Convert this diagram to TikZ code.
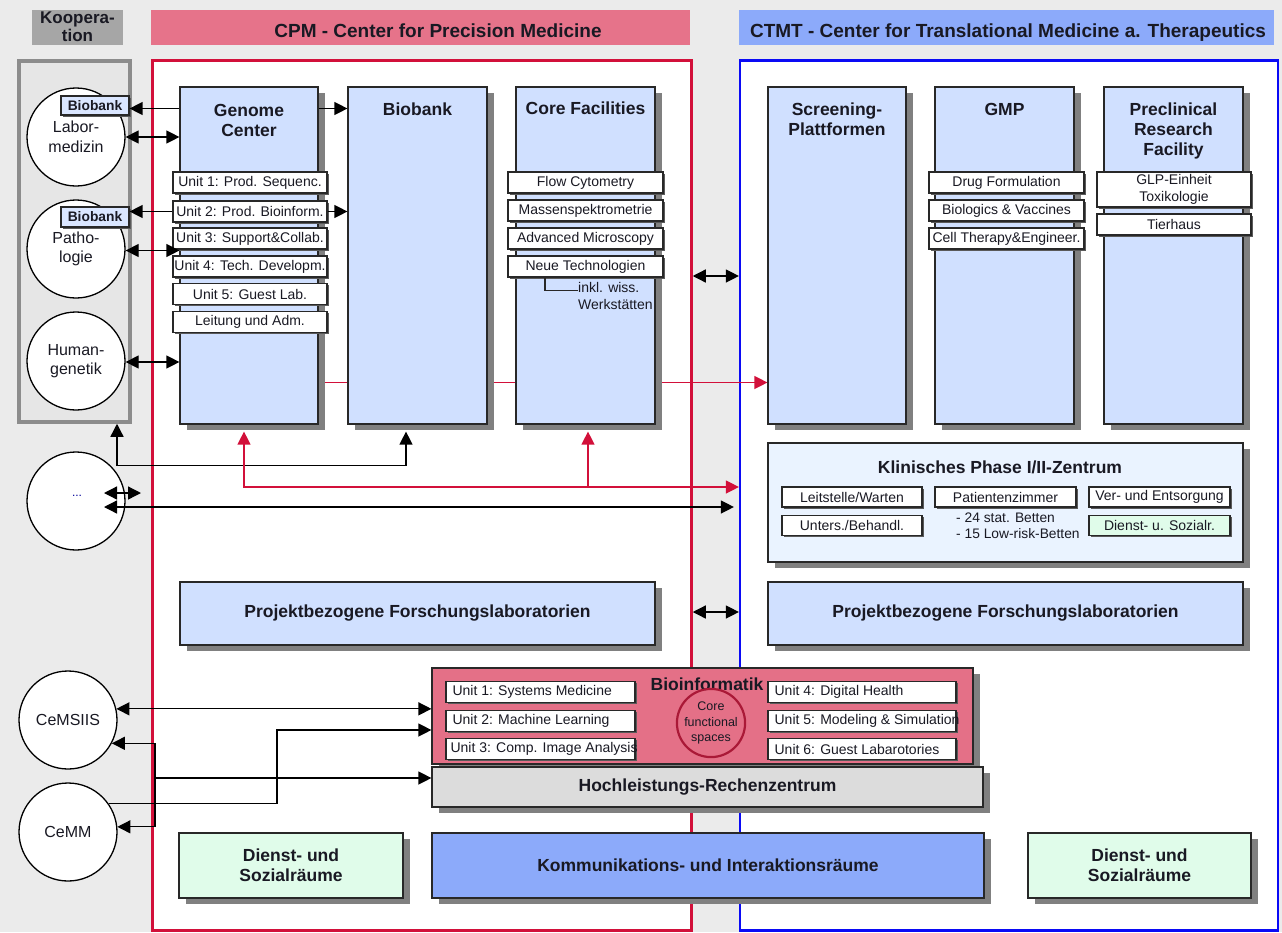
\documentclass[tikz,border=0pt]{standalone}
\usepackage{fontspec}
\setmainfont{Liberation Sans}
\usetikzlibrary{arrows.meta,shadows,calc}
\pgfdeclarelayer{lback}
\pgfdeclarelayer{lmid}
\pgfsetlayers{lback,lmid,main}

\definecolor{bgc}{RGB}{235,235,235}
\definecolor{koophead}{RGB}{166,166,166}
\definecolor{cpmfill}{RGB}{230,115,138}
\definecolor{cpmline}{RGB}{210,16,58}
\definecolor{ctmtfill}{RGB}{140,170,250}
\definecolor{ctmtline}{RGB}{10,10,245}
\definecolor{colfill}{RGB}{208,224,255}
\definecolor{klinfill}{RGB}{234,243,255}
\definecolor{greenfill}{RGB}{224,252,234}
\definecolor{hochfill}{RGB}{220,220,220}
\definecolor{bioinf}{RGB}{228,112,135}
\definecolor{coreline}{RGB}{170,25,55}
\definecolor{shad}{RGB}{128,128,128}
\definecolor{edgec}{RGB}{40,40,40}
\definecolor{txt}{RGB}{25,25,35}
\definecolor{koopframe}{RGB}{140,140,140}
\definecolor{koopin}{RGB}{230,230,230}
\definecolor{tagfill}{RGB}{218,230,255}

\newcommand\zT{\fontsize{17.5}{20}\selectfont\bfseries}
\newcommand\zH{\fontsize{19}{22}\selectfont\bfseries}
\newcommand\zU{\fontsize{14}{17}\selectfont}
\newcommand\zB{\fontsize{13.8}{17}\selectfont\bfseries}
\newcommand\zC{\fontsize{16}{19.5}\selectfont}
\newcommand\zS{\fontsize{12.5}{15.5}\selectfont}

\begin{document}
\begin{tikzpicture}[x=1pt,y=-1pt,
  every node/.style={text=txt},
  boxed/.style={draw=edgec, line width=1.2pt, inner sep=0pt, rectangle},
  colbox/.style={boxed, fill=colfill, minimum width=139pt, minimum height=337pt,
     drop shadow={shadow xshift=7pt, shadow yshift=-6pt, fill=shad, opacity=1}},
  bigbox/.style={boxed, drop shadow={shadow xshift=7pt, shadow yshift=-6pt, fill=shad, opacity=1}},
  unitbox/.style={boxed, fill=white, font=\zU, minimum height=21pt, align=center,
     drop shadow={shadow xshift=1.8pt, shadow yshift=-1.8pt, fill=shad!70!black, opacity=1}},
  ttl/.style={font=\zT, align=center, inner sep=0pt, anchor=north},
  circbox/.style={circle, draw=black, line width=1.3pt, fill=white, minimum size=98pt,
     inner sep=0pt, font=\zC, align=center},
  tagbox/.style={boxed, fill=tagfill, font=\zB, minimum width=68pt, minimum height=19pt,
     drop shadow={shadow xshift=1.5pt, shadow yshift=-1.5pt, fill=shad!70!black, opacity=1}},
  darr/.style={{Triangle[length=13pt,width=13pt]}-{Triangle[length=13pt,width=13pt]}, line width=1.3pt, black},
  sarr/.style={-{Triangle[length=13pt,width=13pt]}, line width=1.3pt, black},
  rarr/.style={-{Triangle[length=13pt,width=13pt]}, line width=1.3pt, cpmline},
  rdarr/.style={{Triangle[length=13pt,width=13pt]}-{Triangle[length=13pt,width=13pt]}, line width=1.3pt, cpmline}
]
\useasboundingbox (0,0) rectangle (1282,932);

\begin{pgfonlayer}{lback}
\fill[bgc] (0,0) rectangle (1282,932);
\node[draw=koopframe, line width=3.5pt, fill=koopin, minimum width=111pt, minimum height=361pt, inner sep=0pt] (koop) at (74.5,241.5) {};
\node[draw=cpmline, line width=2.5pt, fill=white, minimum width=539pt, minimum height=870pt, inner sep=0pt] (cpm) at (422,495.5) {};
\node[draw=ctmtline, line width=2.2pt, fill=white, minimum width=538pt, minimum height=870pt, inner sep=0pt] (ctmt) at (1009,495.5) {};
\end{pgfonlayer}

% headers
\node[fill=koophead, minimum width=91pt, minimum height=35pt, inner sep=0pt] (kh) at (77.5,27.5) {};
\node[font=\fontsize{17}{18}\selectfont\bfseries, align=center, inner sep=0pt, anchor=north] (kht) at (77.5,12) {Koopera-\\tion};
\node[fill=cpmfill, minimum width=539pt, minimum height=35pt, inner sep=0pt] (ch) at (420.5,27.5) {};
\node[font=\zH, inner sep=0pt, anchor=base] (cht) at (438,37.5) {CPM - Center for Precision Medicine};
\node[fill=ctmtfill, minimum width=535pt, minimum height=35pt, inner sep=0pt] (th) at (1006.5,27.5) {};
\node[font=\zH, inner sep=0pt, anchor=base] (tht) at (1008,37.5) {CTMT - Center for Translational Medicine a. Therapeutics};

% columns CPM
\node[colbox, minimum width=138pt] (gc) at (249,255.5) {};
\node[ttl] (gct) at (249,104) {Genome\\Center};
\node[colbox] (bb) at (417.5,255.5) {};
\node[ttl] (bbt) at (417.5,103) {Biobank};
\node[colbox] (cf) at (585.5,255.5) {};
\node[ttl] (cft) at (585.5,102) {Core Facilities};
% columns CTMT
\node[colbox, minimum width=138pt] (sp) at (837,255.5) {};
\node[ttl] (spt) at (837,103) {Screening-\\Plattformen};
\node[colbox] (gmp) at (1004.5,255.5) {};
\node[ttl] (gmpt) at (1004.5,103) {GMP};
\node[colbox] (prf) at (1173.5,255.5) {};
\node[ttl] (prft) at (1173.5,103) {Preclinical\\Research\\Facility};

% genome units
\node[unitbox, minimum width=154pt] (u1) at (250,182.5) {Unit 1: Prod. Sequenc.};
\node[unitbox, minimum width=154pt] (u2) at (250,211.5) {Unit 2: Prod. Bioinform.};
\node[unitbox, minimum width=154pt] (u3) at (250,238.5) {Unit 3: Support\&Collab.};
\node[unitbox, minimum width=154pt] (u4) at (250,266.5) {Unit 4: Tech. Developm.};
\node[unitbox, minimum width=154pt] (u5) at (250,294) {Unit 5: Guest Lab.};
\node[unitbox, minimum width=154pt] (u6) at (250,322) {Leitung und Adm.};
% core units
\node[unitbox, minimum width=155pt] (c1) at (585.5,182.5) {Flow Cytometry};
\node[unitbox, minimum width=155pt] (c2) at (585.5,210.5) {Massenspektrometrie};
\node[unitbox, minimum width=155pt] (c3) at (585.5,238.5) {Advanced Microscopy};
\node[unitbox, minimum width=155pt] (c4) at (585.5,266.5) {Neue Technologien};
\coordinate (wk) at (578,290.5);
\draw[line width=1.2pt, edgec] (c4.south -| 545,0) |- (wk);
\node[font=\zU, align=left, inner sep=0pt, anchor=west] (wkt) at (578,296) {inkl. wiss.\\Werkst\"atten};
% gmp units
\node[unitbox, minimum width=155pt] (g1) at (1006.5,182.5) {Drug Formulation};
\node[unitbox, minimum width=155pt] (g2) at (1006.5,210.5) {Biologics \& Vaccines};
\node[unitbox, minimum width=155pt] (g3) at (1006.5,238.5) {Cell Therapy\&Engineer.};
% preclinical units
\node[unitbox, minimum width=154pt, minimum height=35pt] (p1) at (1174,189.5) {GLP-Einheit\\Toxikologie};
\node[unitbox, minimum width=154pt] (p2) at (1174,224.5) {Tierhaus};

% Kooperation circles
\node[circbox] (lab) at (76,137) {Labor-\\medizin};
\node[circbox] (pat) at (76,249) {Patho-\\logie};
\node[circbox] (hum) at (76,361) {Human-\\genetik};
\node[circbox] (dots) at (76,501) {};
\node[font=\fontsize{12}{12}\selectfont, text=blue!60!black, inner sep=0pt] (dotst) at (77,496) {...};
\node[circbox] (cemsiis) at (68,720) {CeMSIIS};
\node[circbox] (cemm) at (68,832) {CeMM};
\node[tagbox] (tag1) at (95,105.5) {Biobank};
\node[tagbox, minimum height=20pt] (tag2) at (95,217) {Biobank};

% Klinisches Zentrum
\node[bigbox, fill=klinfill, minimum width=475pt, minimum height=119pt] (klin) at (1005.5,502.5) {};
\node[font=\zT, inner sep=0pt] (klint) at (1000,467) {Klinisches Phase I/II-Zentrum};
\node[unitbox, minimum width=140pt, minimum height=20pt] (k1) at (852,497) {Leitstelle/Warten};
\node[unitbox, minimum width=141pt, minimum height=20pt] (k2) at (1005.5,497) {Patientenzimmer};
\node[unitbox, minimum width=141pt, minimum height=20pt] (k3) at (1159.5,497) {Ver- und Entsorgung};
\node[unitbox, minimum width=140pt, minimum height=20pt] (k4) at (852,525.5) {Unters./Behandl.};
\node[unitbox, minimum width=141pt, minimum height=20pt, fill=greenfill] (k5) at (1159.5,525.5) {Dienst- u. Sozialr.};
\node[font=\fontsize{13.8}{16}\selectfont, align=left, inner sep=0pt, anchor=west] (bett) at (956,526) {- 24 stat. Betten\\- 15 Low-risk-Betten};

% Projekt labs
\node[bigbox, fill=colfill, minimum width=475pt, minimum height=63pt, font=\zT] (pj1) at (417.5,613.5) {Projektbezogene Forschungslaboratorien};
\node[bigbox, fill=colfill, minimum width=475pt, minimum height=63pt, font=\zT] (pj2) at (1005.5,613.5) {Projektbezogene Forschungslaboratorien};

% Bioinformatik
\node[bigbox, fill=bioinf, minimum width=541pt, minimum height=96pt] (bio) at (702.5,716) {};
\node[font=\zT, inner sep=0pt] (biot) at (707,684) {Bioinformatik};
\node[unitbox, minimum width=189pt] (b1) at (540.5,692) {};
\node[unitbox, minimum width=189pt] (b2) at (540.5,721) {};
\node[unitbox, minimum width=189pt] (b3) at (540.5,749) {};
\node[unitbox, minimum width=188pt] (b4) at (862,692) {};
\node[unitbox, minimum width=188pt] (b5) at (862,721) {};
\node[unitbox, minimum width=188pt] (b6) at (862,749) {};
\node[font=\zU, anchor=west, inner sep=0pt] (b1t) at ([xshift=7pt]b1.west) {Unit 1: Systems Medicine};
\node[font=\zU, anchor=west, inner sep=0pt] (b2t) at ([xshift=7pt]b2.west) {Unit 2: Machine Learning};
\node[font=\zU, anchor=west, inner sep=0pt] (b3t) at ([xshift=5pt]b3.west) {Unit 3: Comp. Image Analysis};
\node[font=\zU, anchor=west, inner sep=0pt] (b4t) at ([xshift=7pt]b4.west) {Unit 4: Digital Health};
\node[font=\zU, anchor=west, inner sep=0pt] (b5t) at ([xshift=7pt]b5.west) {Unit 5: Modeling \& Simulation};
\node[font=\zU, anchor=west, inner sep=0pt] (b6t) at ([xshift=7pt]b6.west) {Unit 6: Guest Labarotories};
\node[circle, draw=coreline, line width=2.2pt, minimum size=68pt, inner sep=0pt, font=\zS, align=center] (cfs) at (711,723) {Core\\functional\\spaces};
\node[bigbox, fill=hochfill, minimum width=551pt, minimum height=40pt, font=\zT] (hoch) at (707.5,787) {Hochleistungs-Rechenzentrum};

% bottom row
\node[bigbox, fill=greenfill, minimum width=224pt, minimum height=65pt, font=\zT, align=center] (dl) at (291,865.5) {Dienst- und\\Sozialr\"aume};
\node[bigbox, fill=ctmtfill, minimum width=552pt, minimum height=65pt, font=\zT] (komm) at (708,865.5) {Kommunikations- und Interaktionsr\"aume};
\node[bigbox, fill=greenfill, minimum width=223pt, minimum height=65pt, font=\zT, align=center] (dr) at (1139.5,865.5) {Dienst- und\\Sozialr\"aume};

% red line behind columns
\coordinate (yr) at (0,382.5);
\begin{pgfonlayer}{lmid}
\draw[rarr] (gc.center |- yr) -- (sp.west |- yr);
\end{pgfonlayer}

% connectors upper left
\coordinate (ya) at (0,108.5);
\draw[sarr] (gc.west |- ya) -- (tag1.east |- ya);
\draw[sarr] (gc.east |- ya) -- (bb.west |- ya);
\draw[darr] (lab.east) -- (lab.east -| gc.west);
\draw[sarr] (u2.west) -- (u2.west -| tag2.east);
\draw[sarr] (u2.east) -- (u2.east -| bb.west);
\draw[darr] ([yshift=-1.5pt]pat.east) -- ([yshift=-1.5pt]pat.east -| gc.west);
\draw[darr] ([yshift=-1pt]hum.east) -- ([yshift=-1pt]hum.east -| gc.west);

% Kooperation <-> Biobank
\coordinate (kx) at (117,465.5);
\coordinate (bx) at (406,465.5);
\draw[darr] (kx |- koop.south) -- (kx) -- (bx) -- ($(bx |- bb.south)+(0,7)$);

% red branch
\coordinate (rg) at (244,487);
\coordinate (rc) at (588,487);
\draw[rdarr] ($(rg |- gc.south)+(0,7)$) -- (rg) -- (rg -| ctmt.west);
\draw[rarr] (rc) -- ($(rc |- cf.south)+(0,7)$);

% dots arrows
\coordinate (d1) at (104,493);
\coordinate (d2) at (141,493);
\coordinate (d3) at (104,507);
\draw[darr] (d1) -- (d2);
\draw[darr] (d3) -- ($(d3 -| ctmt.west)+(-5,0)$);

% middle arrows
\coordinate (m1) at (0,276);
\coordinate (m2) at (0,612);
\draw[darr] (cpm.east |- m1) -- (ctmt.west |- m1);
\draw[darr] (cpm.east |- m2) -- (ctmt.west |- m2);

% CeMSIIS / CeMM arrows
\draw[darr] (cemsiis.13) -- (cemsiis.13 -| bio.west);
\coordinate (cm1) at (277,730);
\draw[sarr] (cemm.35) -| (cm1) -- (cm1 -| bio.west);
\coordinate (tr) at (155,778);
\draw[sarr] (tr) -- (tr -| hoch.west);
\draw[sarr] (tr) |- (cemsiis.-28);
\draw[sarr] (tr) |- (cemm.6);
\end{tikzpicture}
\end{document}
